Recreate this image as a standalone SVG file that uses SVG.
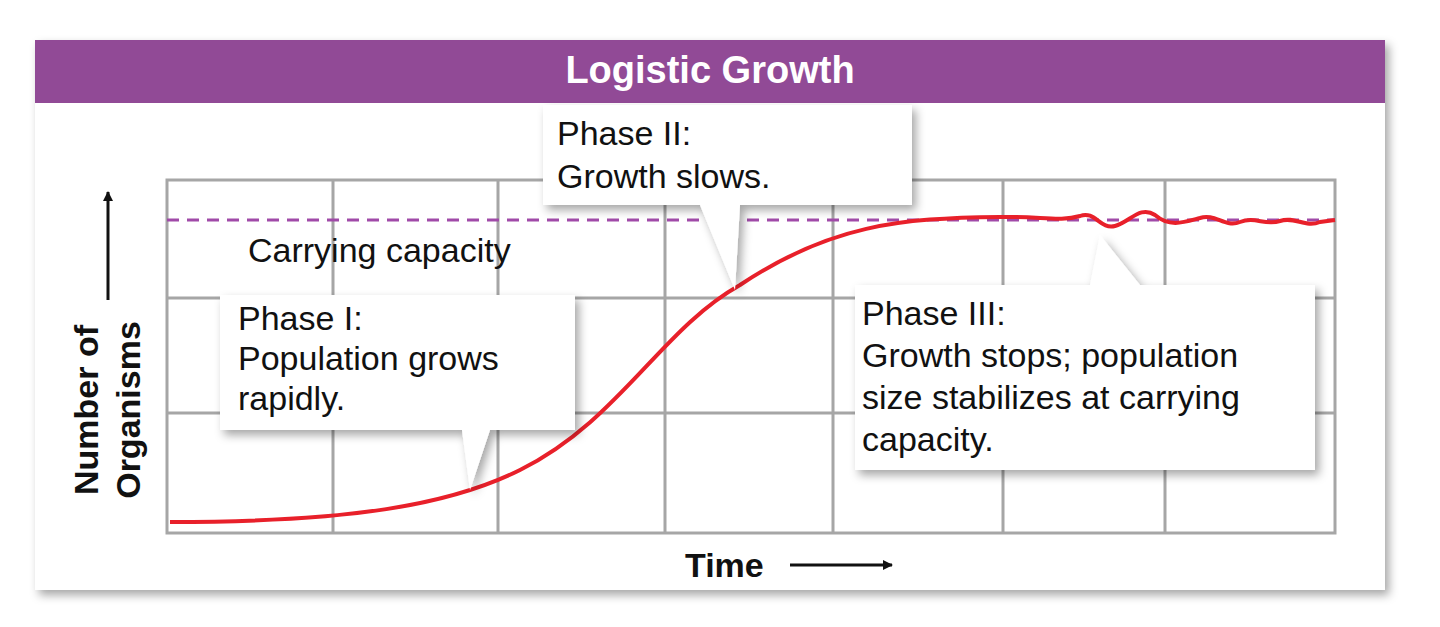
<svg xmlns="http://www.w3.org/2000/svg" width="1440" height="627" viewBox="0 0 1440 627">
<defs>
<filter id="sh" x="-10%" y="-10%" width="130%" height="130%"><feDropShadow dx="4" dy="5" stdDeviation="5" flood-color="#000" flood-opacity="0.35"/></filter>
<marker id="ar" markerWidth="10" markerHeight="10" refX="9" refY="5" orient="auto" markerUnits="userSpaceOnUse" viewBox="0 0 10 10"><path d="M0,0 L10,5 L0,10 Z" fill="#111"/></marker>
</defs>
<style>
.t{font-family:"Liberation Sans",Arial,sans-serif;font-size:34px;fill:#111}
.g{stroke:#a6a6a6;stroke-width:3;fill:none}
.box{fill:#fff;filter:url(#sh)}
</style>
<rect width="1440" height="627" fill="#fff"/>
<rect x="35" y="40" width="1350" height="550" fill="#fff" filter="url(#sh)"/>
<rect x="35" y="40" width="1350" height="63" fill="#914a96"/>
<text x="710" y="83" text-anchor="middle" font-family="Liberation Sans,Arial,sans-serif" font-weight="bold" font-size="38" fill="#fff">Logistic Growth</text>
<g id="grid">
<rect x="167" y="180" width="1168" height="353" class="g"/>
<path class="g" d="M333,180V533M498,180V533M665,180V533M833,180V533M1003,180V533M1165,180V533M167,298H1335M167,413H1335"/>
</g>
<line x1="167" y1="220" x2="1335" y2="220" stroke="#a04aa8" stroke-width="3" stroke-dasharray="12,8"/>
<text class="t" x="248" y="262">Carrying capacity</text>
<path d="M170,522 C350,522 450,505 520,470 C620,420 660,330 740,285 C830,225 900,218 1000,217 C1040,216 1060,222 1080,216 C1095,210 1100,230 1115,226 C1130,222 1140,205 1155,215 C1170,228 1185,222 1200,218 C1215,213 1225,228 1240,222 C1255,216 1265,226 1280,221 C1295,216 1305,228 1320,222 L1335,220" fill="none" stroke="#e8202a" stroke-width="4"/>
<g id="phase1">
<path class="box" d="M220,295 H575 V430 H490 L470,490 L462,430 H220 Z"/>
<text class="t"><tspan x="238" y="330">Phase I:</tspan><tspan x="238" y="370">Population grows</tspan><tspan x="238" y="410">rapidly.</tspan></text>
</g>
<g id="phase2">
<path class="box" d="M543,105 H912 V205 H740 L735,290 L700,205 H543 Z"/>
<text class="t"><tspan x="557" y="145">Phase II:</tspan><tspan x="557" y="188">Growth slows.</tspan></text>
</g>
<g id="phase3">
<path class="box" d="M855,285 H1090 L1100,235 L1140,285 H1315 V470 H855 Z"/>
<text class="t"><tspan x="862" y="325">Phase III:</tspan><tspan x="862" y="367">Growth stops; population</tspan><tspan x="862" y="409">size stabilizes at carrying</tspan><tspan x="862" y="451">capacity.</tspan></text>
</g>
<g id="axes">
<text class="t" font-weight="bold" text-anchor="middle" transform="translate(98,410) rotate(-90)">Number of</text>
<text class="t" font-weight="bold" text-anchor="middle" transform="translate(140,410) rotate(-90)">Organisms</text>
<line x1="108" y1="300" x2="108" y2="192" stroke="#111" stroke-width="3" marker-end="url(#ar)"/>
<text class="t" font-weight="bold" x="685" y="577">Time</text>
<line x1="790" y1="565" x2="892" y2="565" stroke="#111" stroke-width="3" marker-end="url(#ar)"/>
</g>
</svg>
